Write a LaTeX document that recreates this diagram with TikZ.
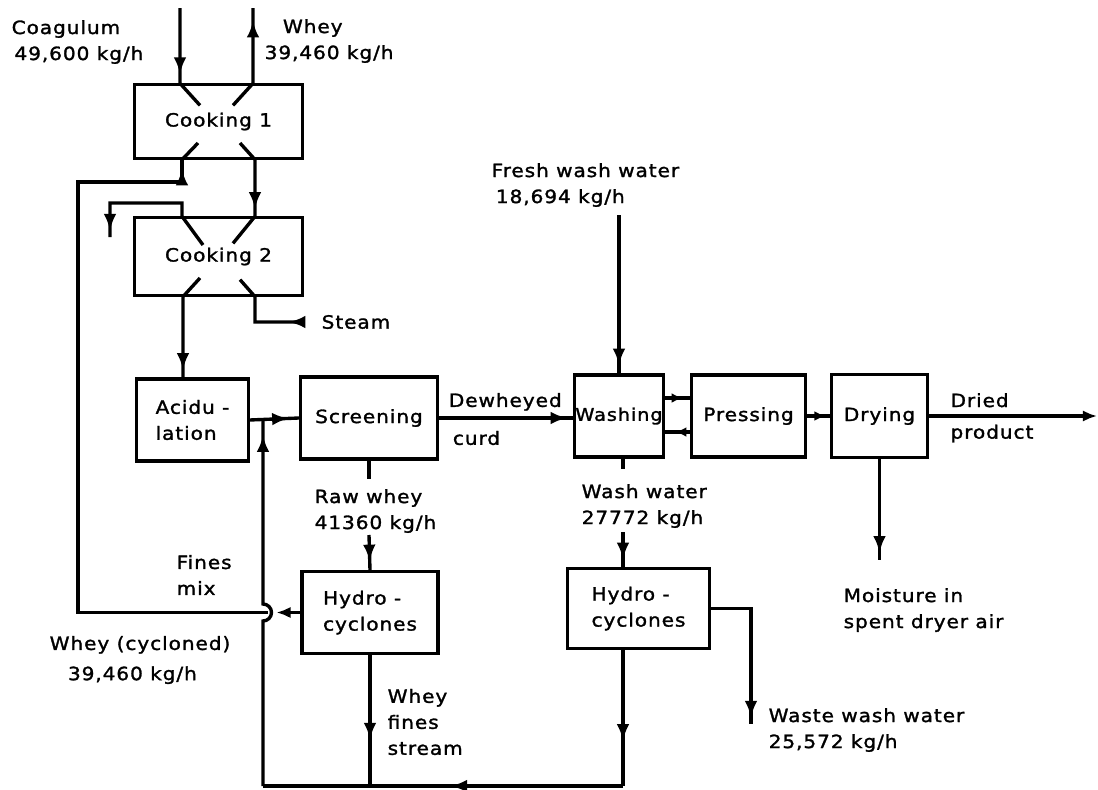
\documentclass[tikz,border=0pt]{standalone}
\usepackage{fontspec}
\setmainfont{DejaVu Sans}[FakeStretch=1.1,LetterSpace=5,FakeBold=1.5]
\usetikzlibrary{arrows.meta,decorations.markings}

\begin{document}
\begin{tikzpicture}
[
	x=0.025cm, y=-0.025cm,
	line width=2.4pt,
	font=\fontsize{13}{18.5}\selectfont,
	unit/.style={draw,line width=2.2pt,inner sep=0pt,align=left},
	txt/.style={inner sep=0pt,align=left,anchor=west},
	flow/.style={postaction={decorate},decoration={markings,mark=at position #1 with {\arrow{Latex[length=12pt,width=9pt]}}}},
	shortflow/.style={postaction={decorate},decoration={markings,mark=at position #1 with {\arrow{Latex[length=8pt,width=7pt]}}}},
	back/.style={postaction={decorate},decoration={markings,mark=at position #1 with {\arrowreversed{Latex[length=12pt,width=9pt]}}}}
]

	\useasboundingbox (0,0) rectangle (1098,789);

	% process units
	\node[unit,minimum width=4.18cm,minimum height=1.83cm] (cook1) at (218.5,121.5) {Cooking 1};
	\node[unit,minimum width=4.18cm,minimum height=1.93cm] (cook2) at (218.5,256.5) {Cooking 2};
	\node[unit,minimum width=2.78cm,minimum height=2.05cm] (acid) at (192.5,420) {Acidu -\\lation};
	\node[unit,minimum width=3.43cm,minimum height=2.05cm] (screen) at (369,418) {Screening};
	\node[unit,minimum width=3.4cm,minimum height=2.03cm] (hydro1) at (370,612.5) {Hydro -\\cyclones};
	\node[unit,minimum width=2.23cm,minimum height=2.05cm,font=\fontsize{12.5}{18.5}\selectfont] (wash) at (619,416) {Washing};
	\node[unit,minimum width=2.83cm,minimum height=2.05cm] (press) at (748.5,416) {Pressing};
	\node[unit,minimum width=2.38cm,minimum height=2.08cm] (dry) at (879.5,416) {Drying};
	\node[unit,minimum width=3.53cm,minimum height=1.98cm] (hydro2) at (638.5,608.5) {Hydro -\\cyclones};

	% inlet and outlet ends
	\coordinate (coagin) at (180,8);
	\coordinate (wheyout) at (253,8);
	\coordinate (vent) at (110,237);
	\coordinate (steam) at (303,322);
	\coordinate (fresh) at (619,215);
	\coordinate (waste) at (751,724);
	\coordinate (dried) at (1097,416);
	\coordinate (moist) at (879.5,560);

	% stream labels
	\node[txt] (coaglbl) at (10,42) {Coagulum\\\hspace*{2pt}49,600 kg/h};
	\node[txt] (wheylbl) at (263,41) {\hspace*{13pt}Whey\\39,460 kg/h};
	\node[txt] (freshlbl) at (490,185) {Fresh wash water\\\hspace*{3pt}18,694 kg/h};
	\node[txt] (steamlbl) at (320,322) {Steam};
	\node[txt] (rawlbl) at (313,511) {Raw whey\\41360 kg/h};
	\node[txt] (washlbl) at (580,506) {Wash water\\27772 kg/h};
	\node[txt] (fineslbl) at (175,575) {Fines\\mix};
	\node[txt] (cyclbl) at (48,660) {Whey (cycloned)\\[3pt]\hspace*{13pt}39,460 kg/h};
	\node[txt] (streamlbl) at (386,722) {Whey\\fines\\stream};
	\node[txt] (wastelbl) at (767,730) {Waste wash water\\25,572 kg/h};
	\node[txt] (moistlbl) at (842,610) {Moisture in\\spent dryer air};

	% cooking
	\draw[flow=0.63] (coagin) -- (coagin |- cook1.north) -- ++(20,22);
	\draw[back=0.12] (wheyout) -- (wheyout |- cook1.north) -- ++(-20,22);
	\draw (198,143) -- (182,0 |- cook1.south);
	\draw[flow=0.63] (240,143) -- (255,0 |- cook1.south) -- (255,0 |- cook2.north) -- ++(-22,27);
	\draw[flow=0.96] (203,245) -- (182,0 |- cook2.north) -- (182,203) -- (110,203) -- (vent);
	\draw[flow=0.15] (steam) -- (255,322) -- (255,0 |- cook2.south) -- ++(-15,-17);
	\draw[flow=0.93] (200,278) -- (183,0 |- cook2.south) -- (183,0 |- acid.north);

	% acidulation and screening
	\draw[flow=0.8] (acid.east) -- (screen.west);
	\draw (screen.south) -- ++(0,18);
	\draw[flow=0.75] (369,535) -- (hydro1.north);
	\draw[flow=0.96] (screen.east) -- (screen.east -| wash.west)
		node[txt,pos=0.06,anchor=south west,yshift=4pt] {Dewheyed}
		node[txt,pos=0.09,anchor=north west,yshift=-8pt] {curd};

	% whey cycloned back to cooking 1
	\draw[-{Latex[length=10pt,width=8pt]}] (hydro1.west) -- ++(-24,0);
	\draw[flow=0.988] (268,612.5) -- (78,612.5) -- (78,182) -- (182,182) -- (182,0 |- cook1.south);

	% fines mix
	\draw[flow=0.64] (hydro1.south) -- ++(0,133);
	\draw[flow=0.67] (623,0 |- hydro2.south) -- (623,786);
	\draw[flow=0.48] (623,786) -- (263,786);
	\draw[flow=0.96] (263,786) -- (263,621) arc (90:-90:8.5) -- (263,0 |- acid.east);

	% washing, pressing, drying
	\draw[flow=0.95] (fresh) -- (wash.north);
	\draw[shortflow=0.7] (wash.east |- 0,398) -- (press.west |- 0,398);
	\draw[shortflow=0.6] (press.west |- 0,432) -- (wash.east |- 0,432);
	\draw (623,0 |- wash.south) -- ++(0,10);
	\draw[flow=0.78] (623,532) -- (623,0 |- hydro2.north);
	\draw[flow=0.96] (hydro2.east) -- (751,0 |- hydro2.east) -- (waste);
	\draw[shortflow=0.8] (press.east) -- (dry.west);
	\draw[-{Latex[length=10pt,width=8pt]}] (dry.east) -- (dried)
		node[txt,pos=0.12,anchor=south west,yshift=5pt] {Dried}
		node[txt,pos=0.12,anchor=north west,yshift=-5pt] {product};
	\draw[flow=0.93] (dry.south) -- (moist);

\end{tikzpicture}
\end{document}
